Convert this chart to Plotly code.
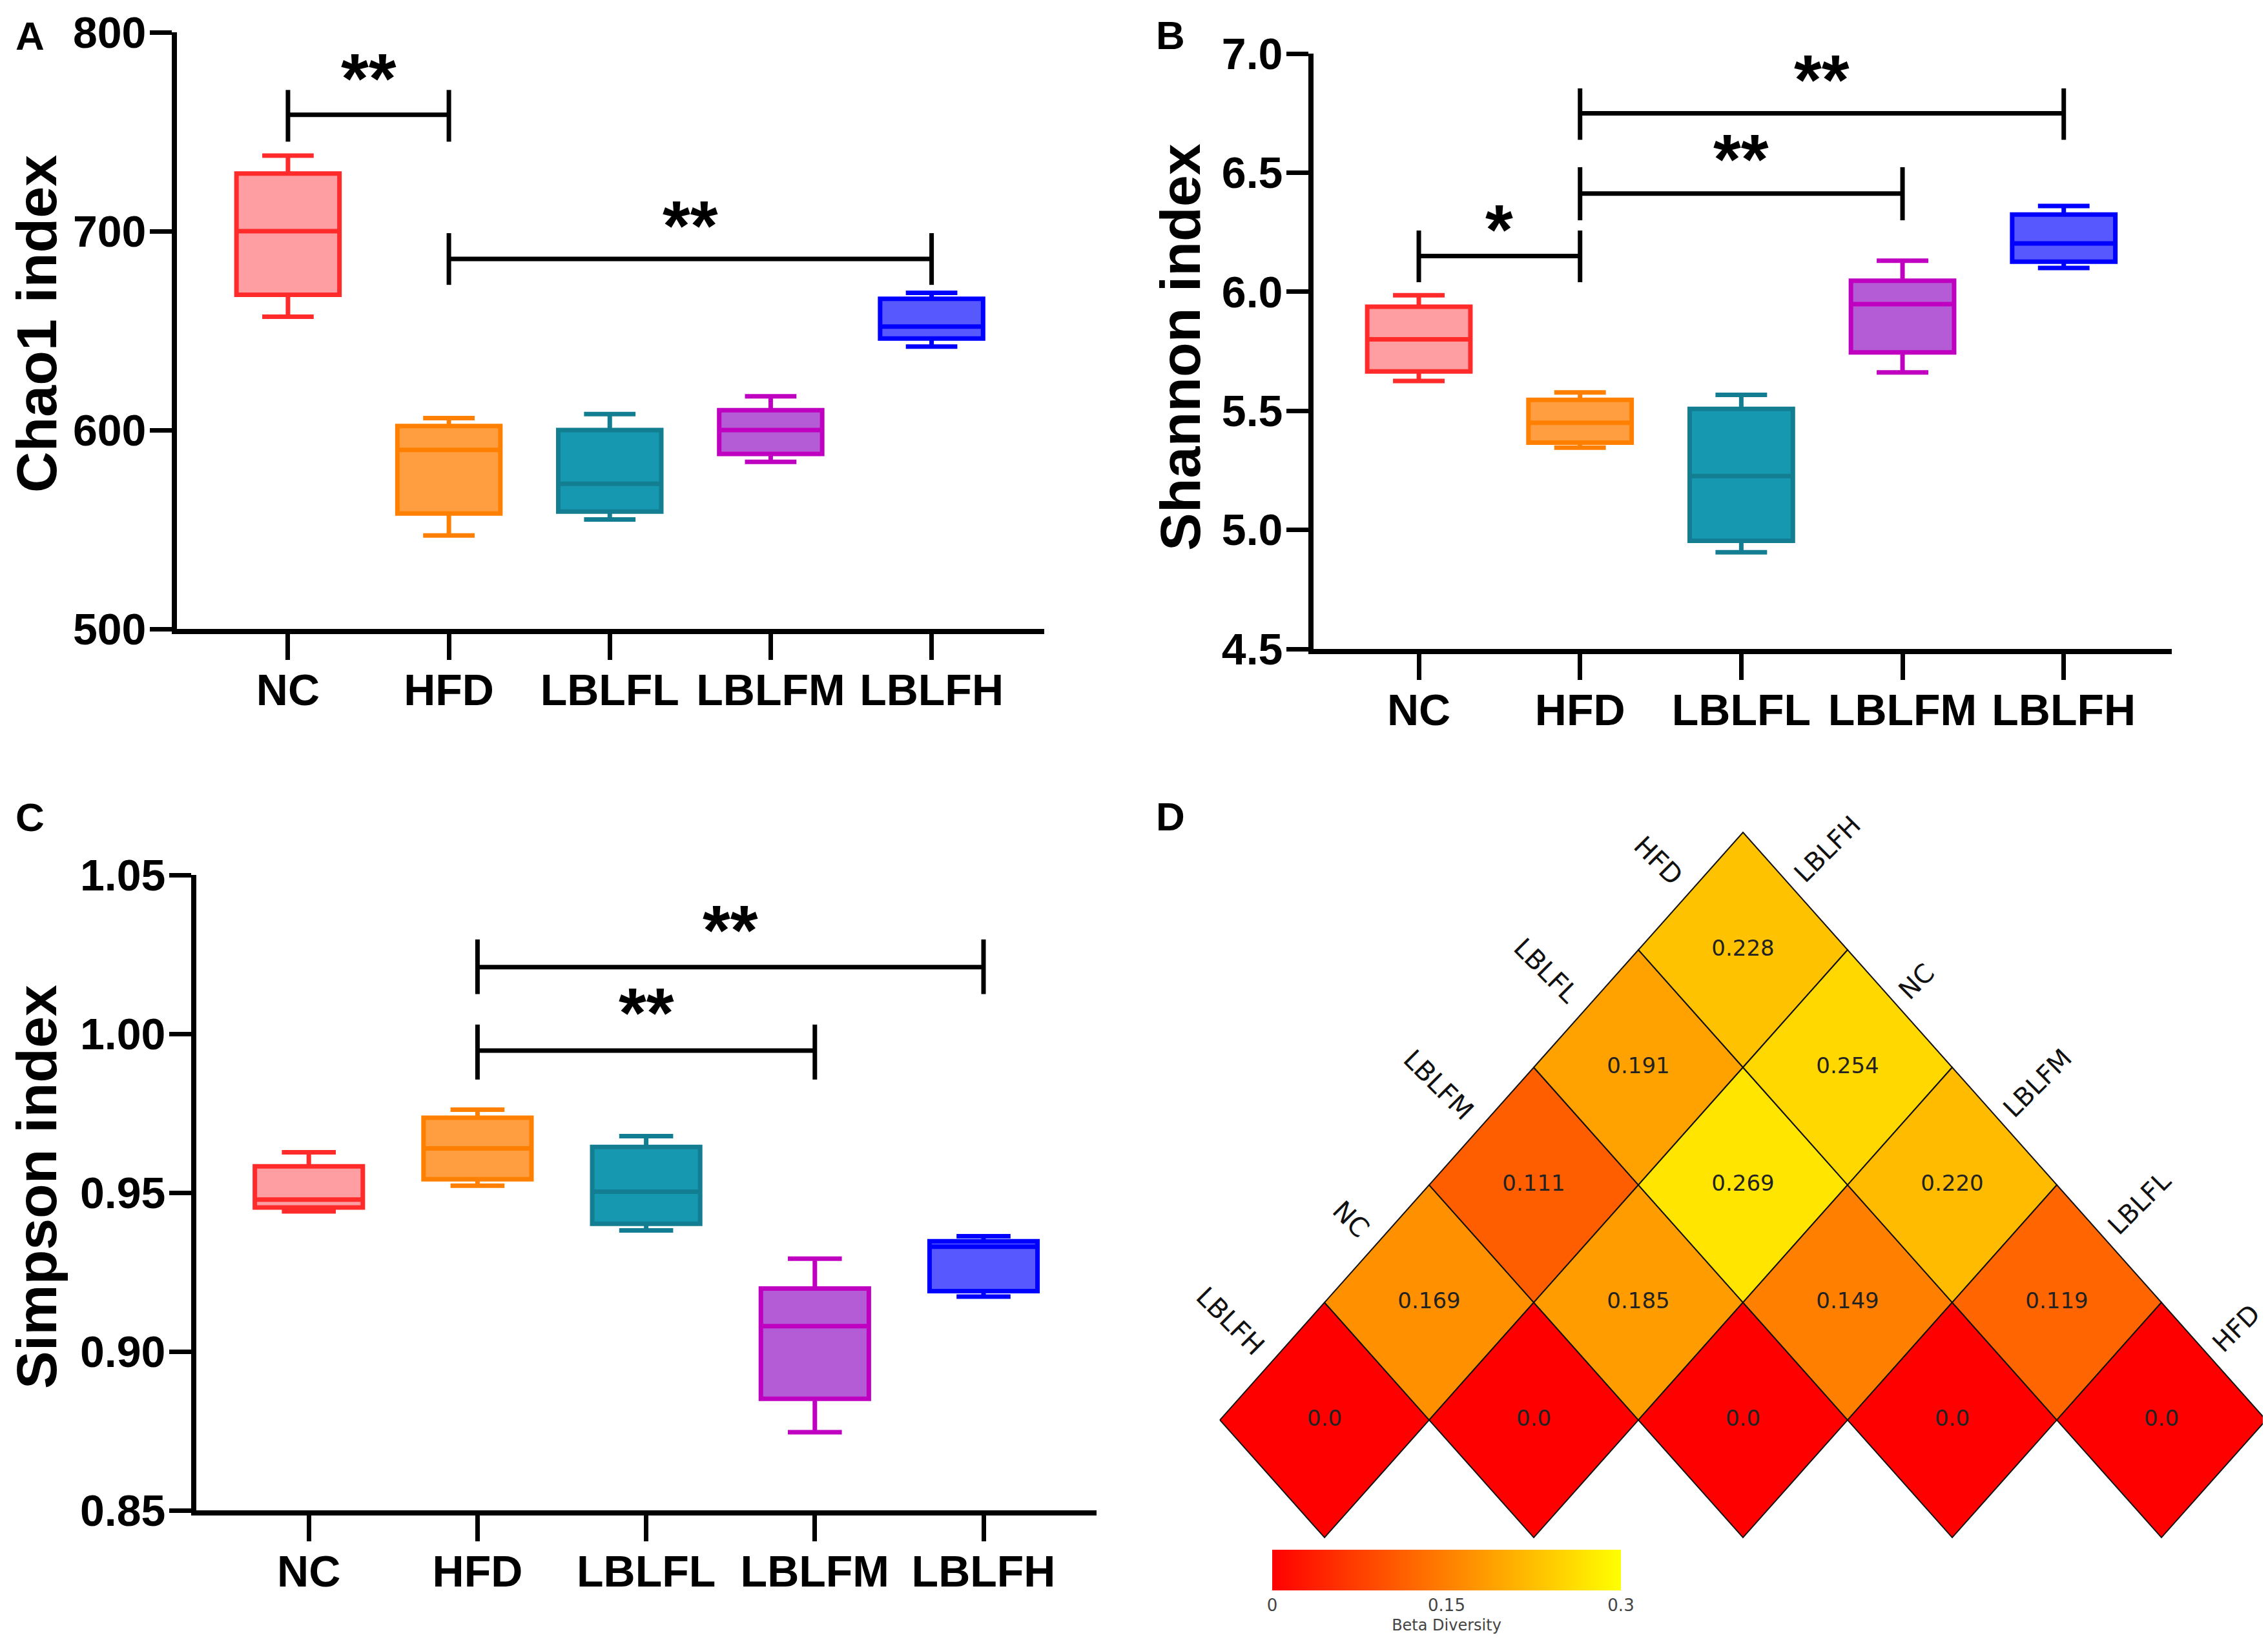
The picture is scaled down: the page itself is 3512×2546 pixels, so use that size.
import plotly.graph_objects as go
from plotly.colors import sample_colorscale

W, H = 3512, 2546

# ---------------- data ----------------
groups = ["NC", "HFD", "LBLFL", "LBLFM", "LBLFH"]

chao1_upper = [738, 606, 608, 617, 669]
chao1_q3 = [729, 602, 600, 610, 666]
chao1_median = [700, 590, 573, 600, 652]
chao1_q1 = [668, 558, 559, 588, 646]
chao1_lower = [657, 547, 555, 584, 642]

shannon_upper = [5.985, 5.577, 5.567, 6.13, 6.36]
shannon_q3 = [5.937, 5.546, 5.508, 6.046, 6.324]
shannon_median = [5.80, 5.45, 5.226, 5.948, 6.203]
shannon_q1 = [5.665, 5.366, 4.954, 5.745, 6.126]
shannon_lower = [5.625, 5.345, 4.906, 5.661, 6.10]

simpson_upper = [0.9627, 0.9761, 0.9678, 0.9292, 0.9363]
simpson_q3 = [0.9583, 0.9736, 0.9644, 0.9198, 0.9347]
simpson_median = [0.9478, 0.9639, 0.9503, 0.908, 0.933]
simpson_q1 = [0.9453, 0.9542, 0.9402, 0.8851, 0.919]
simpson_lower = [0.9441, 0.9522, 0.9381, 0.8746, 0.9173]

chao1_ticks = [500, 600, 700, 800]
chao1_ticktext = ["500", "600", "700", "800"]
shannon_ticks = [4.5, 5.0, 5.5, 6.0, 6.5, 7.0]
shannon_ticktext = ["4.5", "5.0", "5.5", "6.0", "6.5", "7.0"]
simpson_ticks = [0.85, 0.90, 0.95, 1.00, 1.05]
simpson_ticktext = ["0.85", "0.90", "0.95", "1.00", "1.05"]

# significance brackets: (group1, group2, bar y, tick top, tick bottom, label, label y)
chao1_sig = [("NC", "HFD", 758.5, 771, 745, "**", 779),
             ("HFD", "LBLFH", 686, 699, 673, "**", 705)]
shannon_sig = [("NC", "HFD", 6.15, 6.257, 6.04, "*", 6.28),
               ("HFD", "LBLFM", 6.412, 6.523, 6.30, "**", 6.575),
               ("HFD", "LBLFH", 6.749, 6.854, 6.638, "**", 6.91)]
simpson_sig = [("HFD", "LBLFH", 1.021, 1.0297, 1.0125, "**", 1.034),
               ("HFD", "LBLFM", 0.9947, 1.0029, 0.9856, "**", 1.008)]

# beta diversity (lower triangle), order along the diagonal
beta_order = ["LBLFH", "NC", "LBLFM", "LBLFL", "HFD"]
beta_matrix = [
    [0.0],
    [0.169, 0.0],
    [0.111, 0.185, 0.0],
    [0.191, 0.269, 0.149, 0.0],
    [0.228, 0.254, 0.220, 0.119, 0.0],
]
beta_cbar_ticks = [0, 0.15, 0.3]
beta_cbar_ticktext = ["0", "0.15", "0.3"]

# ---------------- style ----------------
line_colors = ["#FF2A2A", "#FF8000", "#137D92", "#C000C0", "#0000FF"]
fill_colors = ["#FF9EA2", "#FF9E40", "#1698B0", "#B45CD6", "#5858FF"]
FONT = "Liberation Sans"
DFONT = "DejaVu Sans"
beta_scale = [[0, "#FF0000"], [1, "#FFFF00"]]
BMIN, BMAX = 0.0, 0.3


def xd(a, b):
    return [a / W, b / W]


def yd(top, bottom):
    return [1 - bottom / H, 1 - top / H]


fig = go.Figure()
annotations = []

panels = [
    dict(n="", xdom=(266, 1609), ydom=(42, 966), xr=[-0.69, 4.70], yr=[500, 800],
         up=chao1_upper, q3=chao1_q3, med=chao1_median, q1=chao1_q1, lo=chao1_lower,
         tv=chao1_ticks, tt=chao1_ticktext, sig=chao1_sig, title="Chao1 index",
         tpos=(48, 494), letter="A", lpos=(38, 47)),
    dict(n="2", xdom=(2026, 3355), ydom=(75, 997), xr=[-0.653, 4.67], yr=[4.5, 7.0],
         up=shannon_upper, q3=shannon_q3, med=shannon_median, q1=shannon_q1, lo=shannon_lower,
         tv=shannon_ticks, tt=shannon_ticktext, sig=shannon_sig, title="Shannon index",
         tpos=(1819, 530), letter="B", lpos=(1804, 46)),
    dict(n="3", xdom=(296, 1690), ydom=(1347, 2331), xr=[-0.667, 4.67], yr=[0.85, 1.05],
         up=simpson_upper, q3=simpson_q3, med=simpson_median, q1=simpson_q1, lo=simpson_lower,
         tv=simpson_ticks, tt=simpson_ticktext, sig=simpson_sig, title="Simpson index",
         tpos=(48, 1830), letter="C", lpos=(38, 1258)),
]

layout_axes = {}
for p in panels:
    xa, ya = "x" + p["n"], "y" + p["n"]
    for i, g in enumerate(groups):
        fig.add_trace(go.Box(
            x=[g], q1=[p["q1"][i]], median=[p["med"][i]], q3=[p["q3"][i]],
            lowerfence=[p["lo"][i]], upperfence=[p["up"][i]],
            boxpoints=False, width=0.64, whiskerwidth=0.5,
            line=dict(color=line_colors[i], width=7), fillcolor=fill_colors[i],
            xaxis=xa, yaxis=ya, hoverinfo="skip", showlegend=False))
    for g1, g2, ybar, ytop, ybot, lab, ylab in p["sig"]:
        fig.add_trace(go.Scatter(
            x=[g1, g1, None, g1, g2, None, g2, g2],
            y=[ybot, ytop, None, ybar, ybar, None, ybot, ytop],
            mode="lines", line=dict(color="black", width=7),
            xaxis=xa, yaxis=ya, hoverinfo="skip", showlegend=False))
        annotations.append(dict(
            xref=xa, yref=ya, x=(groups.index(g1) + groups.index(g2)) / 2, y=ylab,
            text=lab, showarrow=False, yanchor="middle", xanchor="center", yshift=-6,
            font=dict(family=FONT, size=110, color="black", weight="bold")))
    tickfont = dict(family=FONT, size=68, color="black", weight="bold")
    layout_axes["xaxis" + p["n"]] = dict(
        domain=xd(*p["xdom"]), range=p["xr"], anchor=ya, type="category",
        categoryorder="array", categoryarray=groups,
        showline=True, linewidth=8, linecolor="black", ticks="outside",
        ticklen=40, tickwidth=7, tickcolor="black", tickfont=tickfont,
        ticklabelstandoff=-12, ticklabeloverflow="allow",
        showgrid=False, zeroline=False)
    layout_axes["yaxis" + p["n"]] = dict(
        domain=yd(*p["ydom"]), range=p["yr"], anchor=xa,
        tickvals=p["tv"], ticktext=p["tt"],
        showline=True, linewidth=8, linecolor="black", ticks="outside",
        ticklen=34, tickwidth=7, tickcolor="black", tickfont=tickfont,
        ticklabelstandoff=-8, ticklabeloverflow="allow",
        showgrid=False, zeroline=False)
    annotations.append(dict(
        xref="paper", yref="paper", x=p["tpos"][0] / W, y=1 - p["tpos"][1] / H,
        text=p["title"], textangle=-90, showarrow=False, xanchor="center", yanchor="middle",
        font=dict(family=FONT, size=88, color="black", weight="bold")))
    annotations.append(dict(
        xref="paper", yref="paper", x=p["lpos"][0] / W, y=1 - p["lpos"][1] / H,
        text=p["letter"], showarrow=False, xanchor="center", yanchor="middle",
        font=dict(family=FONT, size=62, color="black", weight="bold")))

# ---------------- panel D: rotated triangular heat map ----------------
cx_list, cy_list, vals, texts = [], [], [], []
for r, row in enumerate(beta_matrix):
    for c, v in enumerate(row):
        cx = (r + c) / 2.0
        cy = (r - c) / 2.0
        col = sample_colorscale(beta_scale, [(v - BMIN) / (BMAX - BMIN)])[0]
        fig.add_trace(go.Scatter(
            x=[cx - 0.5, cx, cx + 0.5, cx, cx - 0.5],
            y=[cy, cy + 0.5, cy, cy - 0.5, cy],
            mode="lines", fill="toself", fillcolor=col,
            line=dict(color="#111111", width=2),
            xaxis="x4", yaxis="y4", hoverinfo="skip", showlegend=False))
        cx_list.append(cx)
        cy_list.append(cy)
        vals.append(v)
        texts.append("0.0" if v == 0 else f"{v:.3f}")

fig.add_trace(go.Scatter(
    x=cx_list, y=cy_list, mode="markers+text", text=texts,
    textposition="middle center",
    textfont=dict(family=DFONT, size=34, color="#222222"),
    marker=dict(size=2, color=vals, colorscale=beta_scale, cmin=BMIN, cmax=BMAX,
                showscale=True,
                colorbar=dict(
                    orientation="h", x=2232 / W, xanchor="center", y=1 - 2392 / H,
                    yanchor="top", len=540, lenmode="pixels", thickness=63,
                    thicknessmode="pixels", outlinewidth=0, xpad=0, ypad=0,
                    tickvals=beta_cbar_ticks, ticktext=beta_cbar_ticktext, ticks="",
                    tickfont=dict(family=DFONT, size=26, color="#444444"),
                    title=dict(text="Beta Diversity", side="bottom",
                               font=dict(family=DFONT, size=24, color="#444444")))),
    xaxis="x4", yaxis="y4", hoverinfo="skip", showlegend=False))

n = len(beta_order)
for k, name in enumerate(beta_order):
    # left edge: cell (k, 0), upper-left side midpoint
    lx, ly = k / 2.0 - 0.25, k / 2.0 + 0.25
    annotations.append(dict(
        xref="x4", yref="y4", x=lx, y=ly, text=name, textangle=45, showarrow=False,
        xanchor="right", yanchor="bottom", xshift=0, yshift=-3,
        font=dict(family=DFONT, size=41, color="#111111")))
    # right edge: cell (n-1, k), upper-right side midpoint
    rx = (n - 1 + k) / 2.0 + 0.25
    ry = (n - 1 - k) / 2.0 + 0.25
    annotations.append(dict(
        xref="x4", yref="y4", x=rx, y=ry, text=name, textangle=-45, showarrow=False,
        xanchor="left", yanchor="bottom", xshift=-14, yshift=2,
        font=dict(family=DFONT, size=40, color="#111111")))

annotations.append(dict(
    xref="paper", yref="paper", x=1804 / W, y=1 - 1256 / H, text="D", showarrow=False,
    xanchor="center", yanchor="middle",
    font=dict(family=FONT, size=62, color="black", weight="bold")))

layout_axes["xaxis4"] = dict(domain=xd(1756, 3512), range=[-0.886, 4.534], anchor="y4",
                             visible=False, showgrid=False, zeroline=False)
layout_axes["yaxis4"] = dict(domain=yd(1273, 2546), range=[-0.975, 2.522], anchor="x4",
                             visible=False, showgrid=False, zeroline=False)

fig.update_layout(
    width=W, height=H, margin=dict(l=0, r=0, t=0, b=0, pad=0, autoexpand=False),
    paper_bgcolor="white", plot_bgcolor="white", showlegend=False,
    boxmode="overlay", annotations=annotations, **layout_axes)

fig.write_html("out.html")
